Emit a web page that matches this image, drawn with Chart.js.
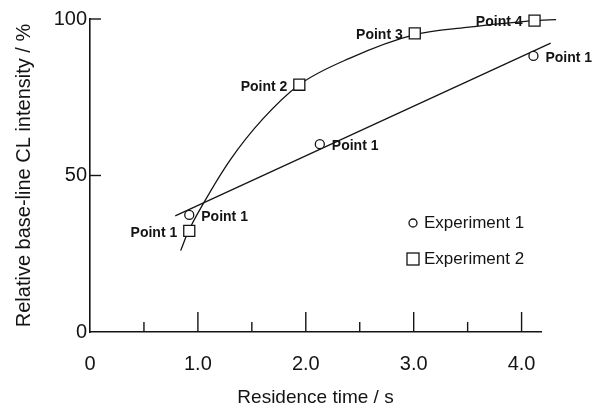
<!DOCTYPE html>
<html>
<head>
<meta charset="utf-8">
<script src="https://cdn.jsdelivr.net/npm/chart.js@4.4.1/dist/chart.umd.min.js"></script>
<style>
  html, body { margin: 0; padding: 0; background: #fff; }
  #wrap { width: 597px; height: 411px; }
</style>
</head>
<body>
<div id="wrap"><canvas id="chart" width="597" height="411"></canvas></div>
<script>
(function(){
    // measured points
    const exp1X = [0.92, 2.13, 4.11];
    const exp1Y = [37.4, 60.0, 88.2];
    const exp1Labels = ["Point 1", "Point 1", "Point 1"];

    const exp2X = [0.92, 1.94, 3.01, 4.12];
    const exp2Y = [32.3, 79.0, 95.4, 99.5];
    const exp2Labels = ["Point 1", "Point 2", "Point 3", "Point 4"];

    // fitted lines
    const fit1X = [0.79, 4.27];
    const fit1Y = [37.1, 92.3];
    const fit2X = [0.84, 0.91, 1.05, 1.30, 1.60, 1.94, 2.41, 3.01, 3.49, 4.12, 4.32];
    const fit2Y = [26.0, 32.0, 41.0, 55.0, 68.0, 79.0, 87.5, 95.0, 97.3, 99.5, 99.8];

    // axes
    const xTicks = [0, 0.5, 1, 1.5, 2, 2.5, 3, 3.5, 4];
    const xTickLabels = ["0", "", "1.0", "", "2.0", "", "3.0", "", "4.0"];
    const yTicks = [0, 50, 100];
    const yTickLabels = ["0", "50", "100"];
    const legendNames = ["Experiment 1", "Experiment 2"];

    const ink = "#141414";
    const family = "'Liberation Sans', Arial, sans-serif";

    const toXY = (xs, ys) => xs.map((x, i) => ({x: x, y: ys[i]}));

    const innerTicks = {
        id: "innerTicks",
        afterDraw(chart) {
            const ctx = chart.ctx;
            const xs = chart.scales.x, ys = chart.scales.y;
            const base = ys.getPixelForValue(0);
            const left = xs.getPixelForValue(0);
            ctx.save();
            ctx.strokeStyle = ink;
            ctx.lineWidth = 1.4;
            xTicks.forEach((v, i) => {
                if (v === 0) return;
                const px = xs.getPixelForValue(v);
                const len = xTickLabels[i] ? 20 : 10;
                ctx.beginPath();
                ctx.moveTo(px, base);
                ctx.lineTo(px, base - len);
                ctx.stroke();
            });
            yTicks.forEach(v => {
                if (v === 0) return;
                const py = ys.getPixelForValue(v);
                ctx.beginPath();
                ctx.moveTo(left, py);
                ctx.lineTo(left + 11, py);
                ctx.stroke();
            });
            ctx.restore();
        }
    };

    const pointLabels = {
        id: "pointLabels",
        afterDatasetsDraw(chart) {
            const ctx = chart.ctx;
            ctx.save();
            ctx.fillStyle = ink;
            ctx.font = "bold 14px " + family;
            ctx.textBaseline = "middle";
            [[0, exp1Labels, 1], [1, exp2Labels, -1]].forEach(([idx, labels, side]) => {
                chart.getDatasetMeta(idx).data.forEach((pt, i) => {
                    ctx.textAlign = side > 0 ? "left" : "right";
                    ctx.fillText(labels[i], pt.x + side * 12, pt.y + 2);
                });
            });
            ctx.restore();
        }
    };

    const boxLegend = {
        id: "boxLegend",
        afterDraw(chart) {
            const ctx = chart.ctx;
            const a = chart.chartArea;
            const mx = a.right - 128;
            ctx.save();
            ctx.strokeStyle = ink;
            ctx.fillStyle = ink;
            ctx.lineWidth = 1.3;
            ctx.font = "17px " + family;
            ctx.textBaseline = "middle";
            ctx.textAlign = "left";
            let my = a.top + 204;
            ctx.beginPath();
            ctx.arc(mx, my, 4, 0, Math.PI * 2);
            ctx.stroke();
            ctx.fillText(legendNames[0], mx + 11, my);
            my = a.top + 240;
            ctx.strokeRect(mx - 6, my - 6, 12, 12);
            ctx.fillText(legendNames[1], mx + 11, my);
            ctx.restore();
        }
    };

    const ctx = document.getElementById("chart").getContext("2d");
    new Chart(ctx, {
        type: "scatter",
        data: {
            datasets: [
                {
                    label: legendNames[0],
                    data: toXY(exp1X, exp1Y),
                    pointStyle: "circle",
                    pointRadius: 4.5,
                    pointBackgroundColor: "#fff",
                    pointBorderColor: ink,
                    pointBorderWidth: 1.3,
                    showLine: false,
                    clip: false,
                    order: 1
                },
                {
                    label: legendNames[1],
                    data: toXY(exp2X, exp2Y),
                    pointStyle: "rect",
                    pointRadius: 7.8,
                    pointBackgroundColor: "#fff",
                    pointBorderColor: ink,
                    pointBorderWidth: 1.3,
                    showLine: false,
                    clip: false,
                    order: 1
                },
                {
                    label: "fit 1",
                    data: toXY(fit1X, fit1Y),
                    showLine: true,
                    pointRadius: 0,
                    borderColor: ink,
                    borderWidth: 1.3,
                    clip: false,
                    order: 2
                },
                {
                    label: "fit 2",
                    data: toXY(fit2X, fit2Y),
                    showLine: true,
                    pointRadius: 0,
                    borderColor: ink,
                    borderWidth: 1.3,
                    cubicInterpolationMode: "monotone",
                    clip: false,
                    order: 2
                }
            ]
        },
        options: {
            responsive: false,
            animation: false,
            layout: { padding: { top: 19, right: 56, bottom: 0, left: 0 } },
            plugins: {
                legend: { display: false },
                tooltip: { enabled: false }
            },
            scales: {
                x: {
                    type: "linear",
                    min: 0,
                    max: 4.18,
                    afterBuildTicks: s => { s.ticks = xTicks.map(v => ({value: v})); },
                    afterFit: s => { s.height = 79; },
                    grid: { display: false, drawTicks: false },
                    border: { display: true, color: ink, width: 1.6 },
                    ticks: {
                        autoSkip: false,
                        maxRotation: 0,
                        padding: 20,
                        color: ink,
                        font: { family: family, size: 20 },
                        callback: (v, i) => xTickLabels[i]
                    },
                    title: {
                        display: true,
                        text: "Residence time / s",
                        color: ink,
                        font: { family: family, size: 19 },
                        padding: { top: 0, bottom: 2 }
                    }
                },
                y: {
                    type: "linear",
                    min: 0,
                    max: 100,
                    afterBuildTicks: s => { s.ticks = yTicks.map(v => ({value: v})); },
                    afterFit: s => { s.width = 90; },
                    grid: { display: false, drawTicks: false },
                    border: { display: true, color: ink, width: 1.6 },
                    ticks: {
                        padding: 3,
                        color: ink,
                        font: { family: family, size: 20 },
                        callback: (v, i) => yTickLabels[i]
                    },
                    title: {
                        display: true,
                        text: "Relative base-line CL intensity / %",
                        color: ink,
                        font: { family: family, size: 20 },
                        padding: { top: 12, bottom: 0 }
                    }
                }
            }
        },
        plugins: [innerTicks, pointLabels, boxLegend]
    });
})()
</script>
</body>
</html>
